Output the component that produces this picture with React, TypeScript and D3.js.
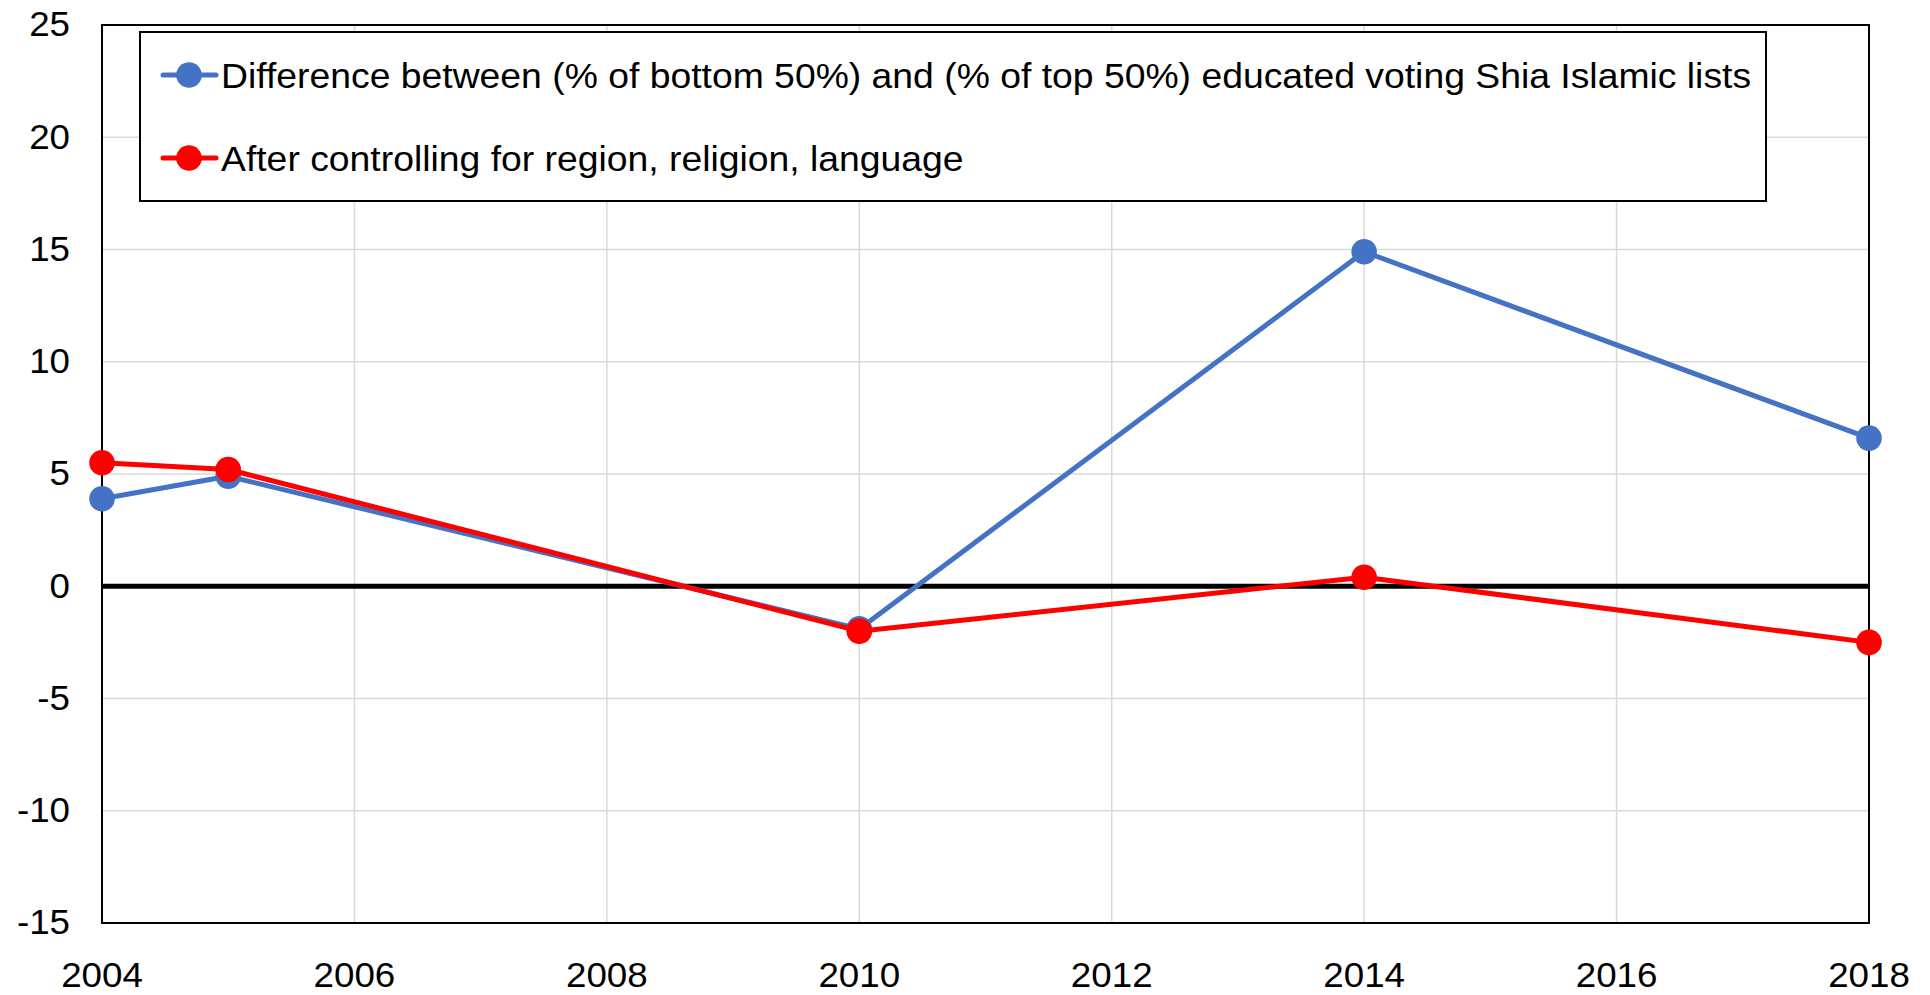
import React from "react";
import * as d3 from "d3";

const years = [2004, 2005, 2010, 2014, 2018];
const diffValues = [3.9, 4.9, -1.9, 14.9, 6.6];
const controlledValues = [5.5, 5.2, -2.0, 0.4, -2.5];
const yTicks = [-15, -10, -5, 0, 5, 10, 15, 20, 25];
const xTicks = [2004, 2006, 2008, 2010, 2012, 2014, 2016, 2018];
const seriesNames = [
  "Difference between (% of bottom 50%) and (% of top 50%) educated voting Shia Islamic lists",
  "After controlling for region, religion, language",
];
const seriesColors = ["#4472C4", "#FF0000"];

const W = 1930;
const H = 995;
const left = 102;
const right = 1869;
const top = 25;
const bottom = 923;
const FONT = "'Liberation Sans', Arial, sans-serif";
const TICK_FS = 35;
const TICK_SX = 1.05;
const LEG_FS = 36;
const LEG_SX = 1.037;

export default function App() {
  const x = d3.scaleLinear().domain([2004, 2018]).range([left, right]);
  const y = d3.scaleLinear().domain([-15, 25]).range([bottom, top]);
  const line = d3
    .line<[number, number]>()
    .x((d) => x(d[0]))
    .y((d) => y(d[1]));
  const series = [diffValues, controlledValues];

  return (
    <svg
      width={W}
      height={H}
      style={{ position: "absolute", left: 0, top: 0, background: "#fff" }}
      fontFamily={FONT}
    >
      <rect x={0} y={0} width={W} height={H} fill="#fff" />
      {yTicks.map((t) => (
        <line key={"gy" + t} x1={left} x2={right} y1={y(t)} y2={y(t)} stroke="#d9d9d9" strokeWidth={1.5} />
      ))}
      {xTicks.map((t) => (
        <line key={"gx" + t} x1={x(t)} x2={x(t)} y1={top} y2={bottom} stroke="#d9d9d9" strokeWidth={1.5} />
      ))}
      <rect x={left} y={top} width={right - left} height={bottom - top} fill="none" stroke="#000" strokeWidth={2} />
      <line x1={left} x2={right} y1={y(0)} y2={y(0)} stroke="#000" strokeWidth={5} />
      {yTicks.map((t) => (
        <text
          key={"ty" + t}
          transform={`translate(${left - 32},${y(t) - 1}) scale(${TICK_SX},1)`}
          dy="0.35em"
          textAnchor="end"
          fontSize={TICK_FS}
          fill="#000"
        >
          {t}
        </text>
      ))}
      {xTicks.map((t) => (
        <text
          key={"tx" + t}
          transform={`translate(${x(t)},${975}) scale(${TICK_SX},1)`}
          dy="0.35em"
          textAnchor="middle"
          fontSize={TICK_FS}
          fill="#000"
        >
          {t}
        </text>
      ))}
      {series.map((vals, i) => {
        const pts: [number, number][] = years.map((yr, j) => [yr, vals[j]]);
        return (
          <g key={"s" + i}>
            <path d={line(pts) || ""} fill="none" stroke={seriesColors[i]} strokeWidth={5} strokeLinejoin="round" />
            {pts.map((p, j) => (
              <circle key={j} cx={x(p[0])} cy={y(p[1])} r={12.8} fill={seriesColors[i]} />
            ))}
          </g>
        );
      })}
      <rect x={140} y={32} width={1626} height={169} fill="#fff" stroke="#000" strokeWidth={2} />
      {seriesNames.map((name, i) => {
        const cy = 75 + i * 83;
        return (
          <g key={"lg" + i}>
            <line x1={163} x2={216} y1={cy} y2={cy} stroke={seriesColors[i]} strokeWidth={5} strokeLinecap="round" />
            <circle cx={189} cy={cy} r={12.8} fill={seriesColors[i]} />
            <text
              transform={`translate(221,${cy}) scale(${LEG_SX},1)`}
              dy="0.35em"
              fontSize={LEG_FS}
              fill="#000"
            >
              {name}
            </text>
          </g>
        );
      })}
    </svg>
  );
}
